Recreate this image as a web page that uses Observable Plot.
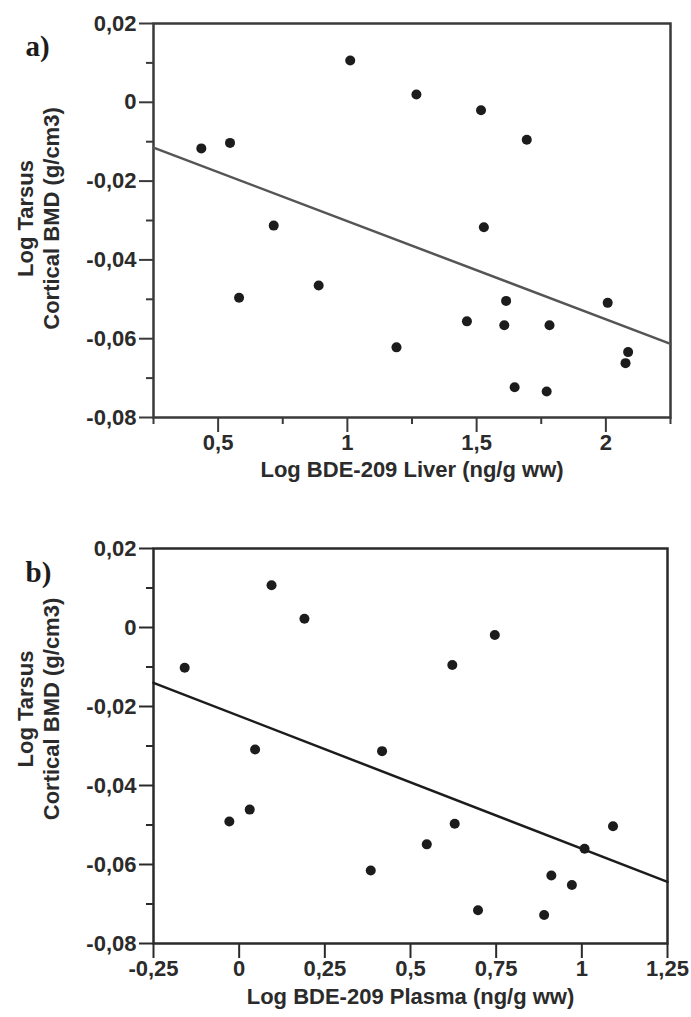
<!DOCTYPE html>
<html>
<head>
<meta charset="utf-8">
<script src="https://cdn.jsdelivr.net/npm/d3@7"></script>
<script src="https://cdn.jsdelivr.net/npm/@observablehq/plot@0.6"></script>
<style>
  html, body { margin: 0; padding: 0; background: #fff; }
  #chart { width: 691px; height: 1017px; }
  #chart svg { display: block; }
</style>
</head>
<body>
<div id="chart"></div>
<script>
// Panel a: liver
const liverX = [0.435, 0.546, 1.011, 1.267, 1.517, 1.694, 0.715, 1.528, 0.581, 0.889,
                1.614, 2.007, 1.4625, 1.607, 1.782, 1.190, 2.086, 2.076, 1.647, 1.771];
const liverY = [-0.0117, -0.0103, 0.0106, 0.0020, -0.0020, -0.0095, -0.0313, -0.0317, -0.0496, -0.0465,
                -0.0504, -0.0509, -0.0556, -0.0566, -0.0566, -0.0622, -0.0634, -0.0662, -0.0723, -0.0734];
const liverFitX = [0.25, 2.25];
const liverFitY = [-0.0115, -0.0613];

// Panel b: plasma
const plasmaX = [-0.159, 0.0945, 0.1905, 0.746, 0.622, 0.0465, 0.417, -0.0287, 0.0308,
                 0.629, 1.091, 0.5475, 1.008, 0.384, 0.911, 0.971, 0.697, 0.890];
const plasmaY = [-0.0102, 0.0107, 0.0022, -0.0019, -0.0095, -0.0309, -0.0313, -0.0491, -0.0461,
                 -0.0497, -0.0503, -0.0549, -0.0560, -0.0615, -0.0628, -0.0652, -0.0716, -0.0728];
const plasmaFitX = [-0.25, 1.25];
const plasmaFitY = [-0.0140, -0.0644];

// Ticks
const yTickValues = [0.02, 0, -0.02, -0.04, -0.06, -0.08];
const yTickLabels = ["0,02", "0", "-0,02", "-0,04", "-0,06", "-0,08"];
const yMinorTicks = [0.01, -0.01, -0.03, -0.05, -0.07];
const liverTickValues = [0.5, 1, 1.5, 2];
const liverTickLabels = ["0,5", "1", "1,5", "2"];
const liverMinorTicks = [0.25, 0.75, 1.25, 1.75, 2.25];
const plasmaTickValues = [-0.25, 0, 0.25, 0.5, 0.75, 1, 1.25];
const plasmaTickLabels = ["-0,25", "0", "0,25", "0,5", "0,75", "1", "1,25"];

const yTitle = "Log Tarsus\nCortical BMD (g/cm3)";
const liverTitle = "Log BDE-209 Liver (ng/g ww)";
const plasmaTitle = "Log BDE-209 Plasma (ng/g ww)";

const ink = "#2b2b2b";
const sans = "'Liberation Sans', Arial, Helvetica, sans-serif";

function fmt(values, labels) {
  return d => { const i = values.findIndex(v => Math.abs(v - d) < 1e-9); return i >= 0 ? labels[i] : ""; };
}

function panel(o) {
  const pts = o.xs.map((x, i) => ({x, y: o.ys[i]}));
  const fit = o.fx.map((x, i) => ({x, y: o.fy[i]}));
  return Plot.plot({
    width: 691,
    height: o.height,
    marginLeft: 153,
    marginRight: o.marginRight,
    marginTop: o.marginTop,
    marginBottom: o.marginBottom,
    style: {fontFamily: sans, fontSize: "22px", fontWeight: "bold", color: ink, background: "#fff", overflow: "visible"},
    x: {domain: o.xDomain, label: null},
    y: {domain: [-0.08, 0.02], label: null},
    marks: [
      Plot.frame({stroke: o.frameColor, strokeWidth: 2.5}),
      Plot.axisY(yTickValues, {tickSize: 14, tickPadding: 3, strokeWidth: 2, tickFormat: fmt(yTickValues, yTickLabels), fill: ink, stroke: o.frameColor}),
      Plot.axisY(yMinorTicks, {tickSize: 7, strokeWidth: 2, tickFormat: () => "", stroke: o.frameColor}),
      Plot.axisX(o.xTicks, {tickSize: 15, tickPadding: 2, strokeWidth: 2, tickFormat: fmt(o.xTicks, o.xLabels), fill: ink, stroke: o.frameColor}),
      ...(o.xMinor ? [Plot.axisX(o.xMinor, {tickSize: 7, strokeWidth: 2, tickFormat: () => "", stroke: o.frameColor})] : []),
      Plot.line(fit, {x: "x", y: "y", stroke: o.lineColor, strokeWidth: 2.5}),
      Plot.dot(pts, {x: "x", y: "y", r: 5, fill: "#1c1c1c", stroke: "none"}),
      Plot.text([yTitle], {frameAnchor: "left", dx: -116, dy: o.yTitleDy, rotate: -90, textAnchor: "middle", lineAnchor: "middle",
                           lineHeight: 1.2, fill: ink, fontSize: 22}),
      Plot.text([o.xTitle], {frameAnchor: "bottom", dy: o.titleDy, textAnchor: "middle", lineAnchor: "middle", fill: ink, fontSize: 22}),
      Plot.text([o.tag], {frameAnchor: "top-left", dx: -128, dy: o.tagDy, textAnchor: "start", lineAnchor: "bottom",
                         fontFamily: "'Liberation Serif', 'Times New Roman', serif", fontWeight: "bold", fontSize: 29, fill: "#1c1c1c"})
    ]
  });
}

const chart = document.getElementById("chart");
chart.append(panel({
  xs: liverX, ys: liverY, fx: liverFitX, fy: liverFitY,
  xDomain: [0.25, 2.25], xTicks: liverTickValues, xLabels: liverTickLabels, xMinor: liverMinorTicks,
  xTitle: liverTitle, tag: "a)", tagDy: 32, yTitleDy: -2,
  height: 500, marginTop: 23, marginBottom: 83, marginRight: 21, titleDy: 52,
  frameColor: "#3a3a3a", lineColor: "#555"
}));
chart.append(panel({
  xs: plasmaX, ys: plasmaY, fx: plasmaFitX, fy: plasmaFitY,
  xDomain: [-0.25, 1.25], xTicks: plasmaTickValues, xLabels: plasmaTickLabels, xMinor: null,
  xTitle: plasmaTitle, tag: "b)", tagDy: 33, yTitleDy: -37,
  height: 517, marginTop: 48, marginBottom: 74, marginRight: 24, titleDy: 53,
  frameColor: "#2a2a2a", lineColor: "#1c1c1c"
}));
</script>
</body>
</html>
